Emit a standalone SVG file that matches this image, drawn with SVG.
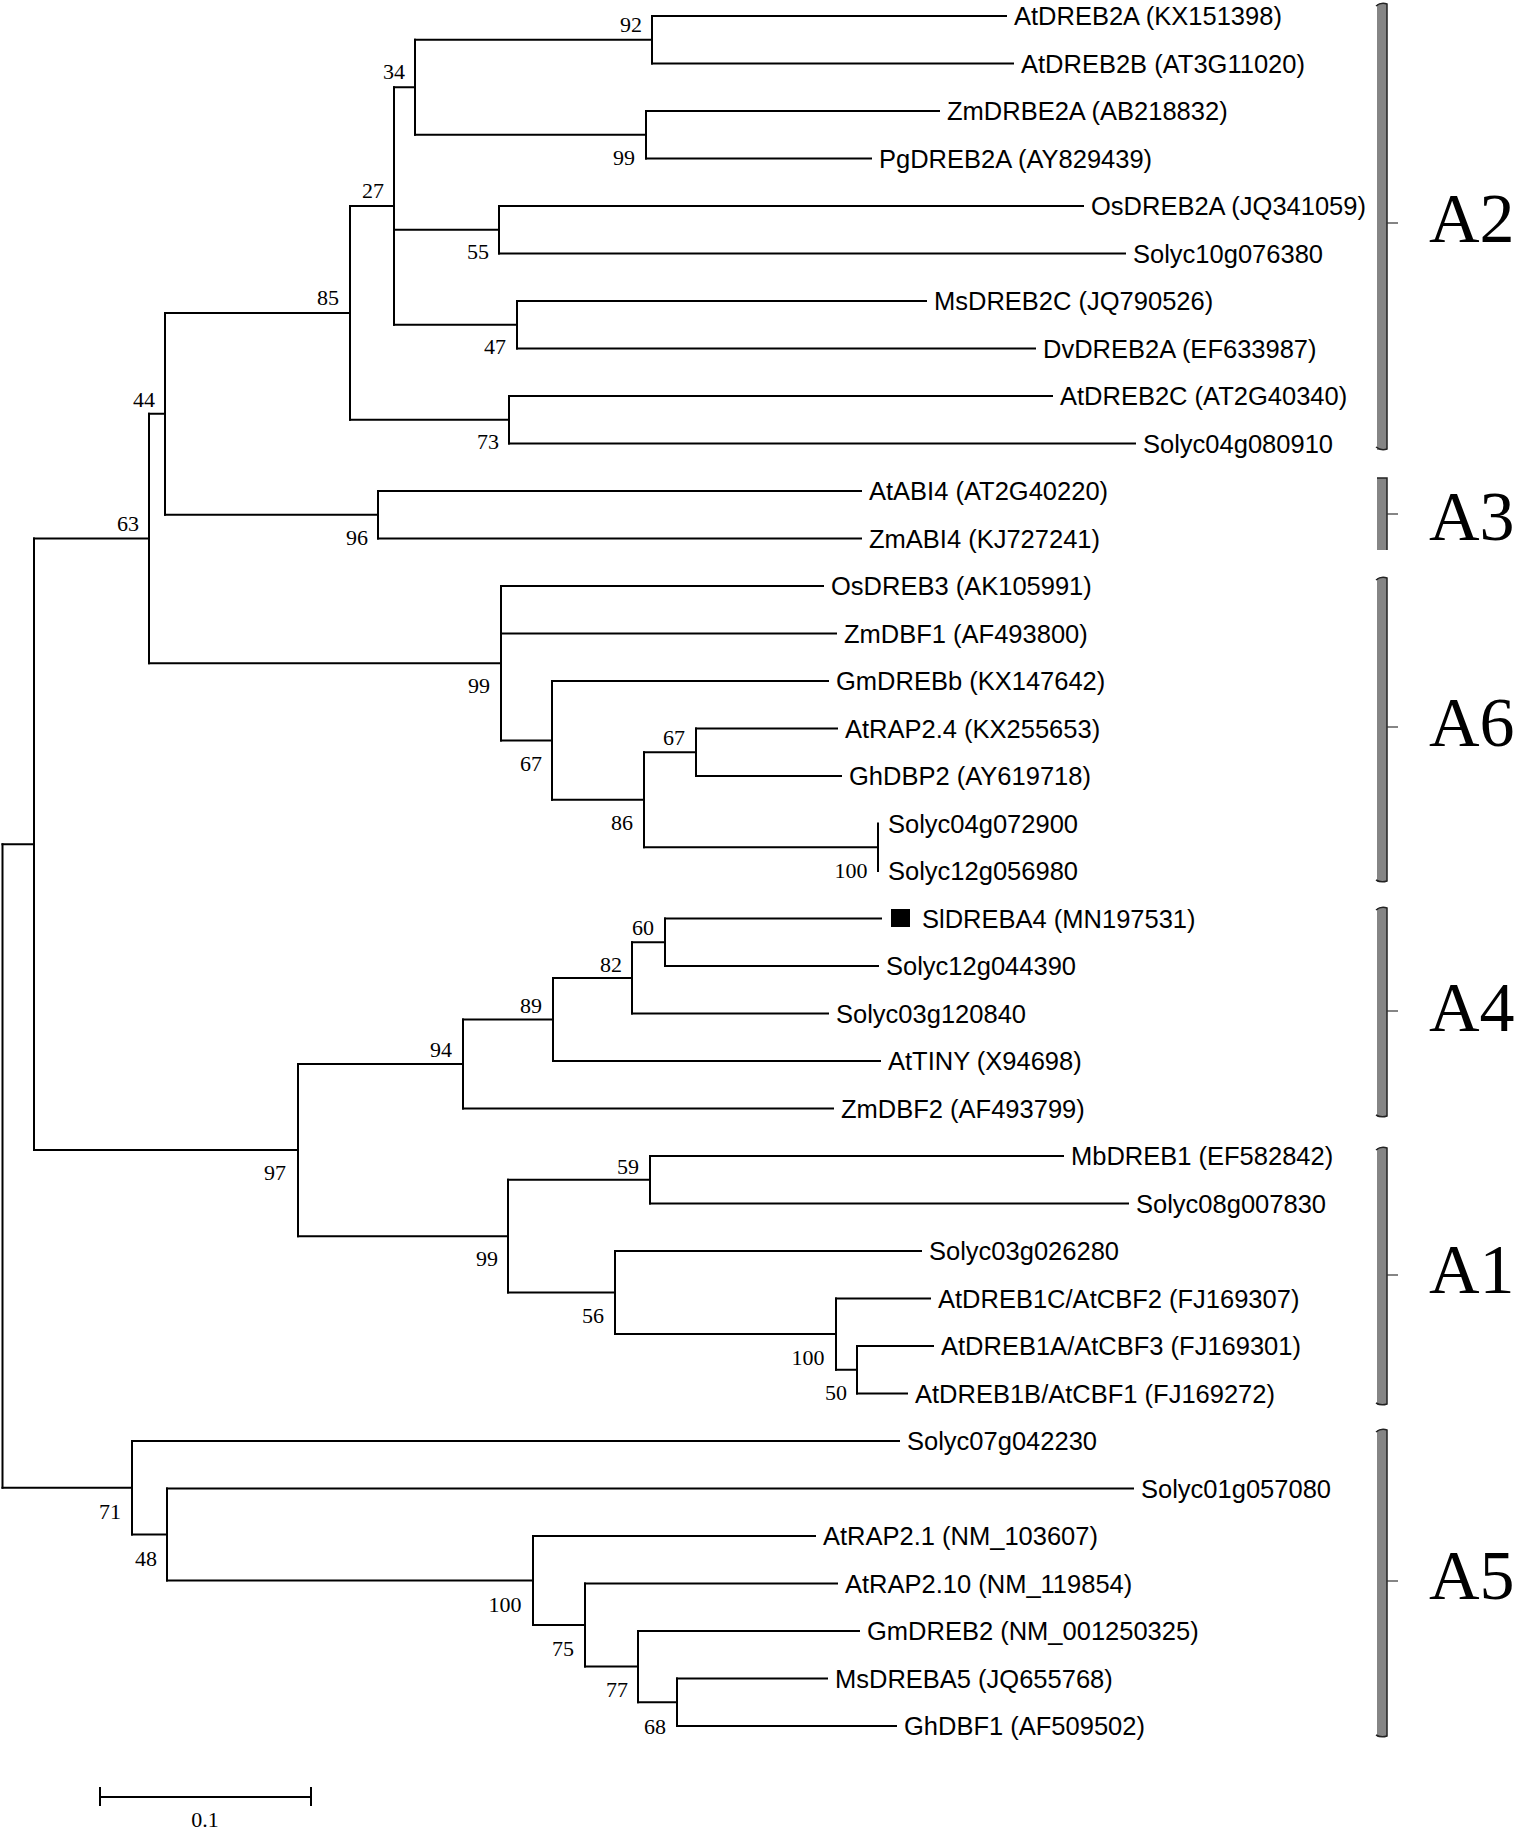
<svg xmlns="http://www.w3.org/2000/svg" width="1516" height="1830" viewBox="0 0 1516 1830">
<style>
.br{fill:none;stroke:#000;stroke-width:2;stroke-linecap:square}
.lf{font-family:"Liberation Sans",Arial,sans-serif;font-size:25.5px;fill:#000}
.bs{font-family:"Liberation Serif","Times New Roman",serif;font-size:22px;fill:#000;text-anchor:middle}
.cl{font-family:"Liberation Serif","Times New Roman",serif;font-size:70px;fill:#000}
.bar{fill:#858585;stroke:none}
.bk{fill:none;stroke:#222;stroke-width:1.5}
.tk{fill:none;stroke:#333;stroke-width:1.2}
</style>
<rect width="1516" height="1830" fill="#fff"/>
<g id="connectors" class="br">
<path d="M652,16H1006M652,63.5H1013M646,111H939M646,158.5H871M499,206H1083M499,253.5H1125M517,301H926M517,348.5H1035M509,396H1052M509,443.5H1135M378,491H861M378,538.5H861M501,586H823M501,633.5H836M552,681H828M696,728.5H837M696,776H841M665,918.5H881M665,966H878M632,1013.5H828M553,1061H880M463,1108.5H833M650,1156H1063M650,1203.5H1128M615,1251H921M836,1298.5H930M857,1346H933M857,1393.5H907M132,1441H899M167,1488.5H1133M533,1536H815M585,1583.5H837M638,1631H859M677,1678.5H827M677,1726H896"/>
<path d="M652,16V63.5M646,111V158.5M415,39.75V134.75M499,206V253.5M517,301V348.5M394,87.25V324.75M509,396V443.5M350,206V419.75M378,491V538.5M165,312.9V514.75M696,728.5V776M878,823.5V871M644,752.25V847.25M552,681V799.75M501,586V740.4M149,413.8V663.2M665,918.5V966M632,942.25V1013.5M553,977.9V1061M463,1019.4V1108.5M650,1156V1203.5M857,1346V1393.5M836,1298.5V1369.75M615,1251V1334.1M508,1179.75V1292.6M298,1064V1236.2M34,538.5V1150.1M677,1678.5V1726M638,1631V1702.25M585,1583.5V1666.6M533,1536V1625M167,1488.5V1580.5M132,1441V1534.5M2.5,844.3V1487.75"/>
<path d="M415,39.75H652M415,134.75H646M394,87.25H415M394,229.75H499M394,324.75H517M350,206H394M350,419.75H509M165,312.9H350M165,514.75H378M149,413.8H165M644,752.25H696M644,847.25H878M552,799.75H644M501,740.4H552M149,663.2H501M34,538.5H149M632,942.25H665M553,977.9H632M463,1019.4H553M298,1064H463M508,1179.75H650M836,1369.75H857M615,1334.1H836M508,1292.6H615M298,1236.2H508M34,1150.1H298M2.5,844.3H34M638,1702.25H677M585,1666.6H638M533,1625H585M167,1580.5H533M132,1534.5H167M2.5,1487.75H132"/>
</g>
<g id="leaves" class="lf">
<g id="leaf-AtDREB2A"><text x="1014" y="25">AtDREB2A (KX151398)</text></g>
<g id="leaf-AtDREB2B"><text x="1021" y="72.5">AtDREB2B (AT3G11020)</text></g>
<g id="leaf-ZmDRBE2A"><text x="947" y="120">ZmDRBE2A (AB218832)</text></g>
<g id="leaf-PgDREB2A"><text x="879" y="167.5">PgDREB2A (AY829439)</text></g>
<g id="leaf-OsDREB2A"><text x="1091" y="215">OsDREB2A (JQ341059)</text></g>
<g id="leaf-Solyc10g076380"><text x="1133" y="262.5">Solyc10g076380</text></g>
<g id="leaf-MsDREB2C"><text x="934" y="310">MsDREB2C (JQ790526)</text></g>
<g id="leaf-DvDREB2A"><text x="1043" y="357.5">DvDREB2A (EF633987)</text></g>
<g id="leaf-AtDREB2C"><text x="1060" y="405">AtDREB2C (AT2G40340)</text></g>
<g id="leaf-Solyc04g080910"><text x="1143" y="452.5">Solyc04g080910</text></g>
<g id="leaf-AtABI4"><text x="869" y="500">AtABI4 (AT2G40220)</text></g>
<g id="leaf-ZmABI4"><text x="869" y="547.5">ZmABI4 (KJ727241)</text></g>
<g id="leaf-OsDREB3"><text x="831" y="595">OsDREB3 (AK105991)</text></g>
<g id="leaf-ZmDBF1"><text x="844" y="642.5">ZmDBF1 (AF493800)</text></g>
<g id="leaf-GmDREBb"><text x="836" y="690">GmDREBb (KX147642)</text></g>
<g id="leaf-AtRAP2.4"><text x="845" y="737.5">AtRAP2.4 (KX255653)</text></g>
<g id="leaf-GhDBP2"><text x="849" y="785">GhDBP2 (AY619718)</text></g>
<g id="leaf-Solyc04g072900"><text x="888" y="832.5">Solyc04g072900</text></g>
<g id="leaf-Solyc12g056980"><text x="888" y="880">Solyc12g056980</text></g>
<g id="leaf-SlDREBA4"><rect x="891" y="909" width="19" height="18" fill="#000"/><text x="922" y="927.5">SlDREBA4 (MN197531)</text></g>
<g id="leaf-Solyc12g044390"><text x="886" y="975">Solyc12g044390</text></g>
<g id="leaf-Solyc03g120840"><text x="836" y="1022.5">Solyc03g120840</text></g>
<g id="leaf-AtTINY"><text x="888" y="1070">AtTINY (X94698)</text></g>
<g id="leaf-ZmDBF2"><text x="841" y="1117.5">ZmDBF2 (AF493799)</text></g>
<g id="leaf-MbDREB1"><text x="1071" y="1165">MbDREB1 (EF582842)</text></g>
<g id="leaf-Solyc08g007830"><text x="1136" y="1212.5">Solyc08g007830</text></g>
<g id="leaf-Solyc03g026280"><text x="929" y="1260">Solyc03g026280</text></g>
<g id="leaf-AtDREB1C"><text x="938" y="1307.5">AtDREB1C/AtCBF2 (FJ169307)</text></g>
<g id="leaf-AtDREB1A"><text x="941" y="1355">AtDREB1A/AtCBF3 (FJ169301)</text></g>
<g id="leaf-AtDREB1B"><text x="915" y="1402.5">AtDREB1B/AtCBF1 (FJ169272)</text></g>
<g id="leaf-Solyc07g042230"><text x="907" y="1450">Solyc07g042230</text></g>
<g id="leaf-Solyc01g057080"><text x="1141" y="1497.5">Solyc01g057080</text></g>
<g id="leaf-AtRAP2.1"><text x="823" y="1545">AtRAP2.1 (NM_103607)</text></g>
<g id="leaf-AtRAP2.10"><text x="845" y="1592.5">AtRAP2.10 (NM_119854)</text></g>
<g id="leaf-GmDREB2"><text x="867" y="1640">GmDREB2 (NM_001250325)</text></g>
<g id="leaf-MsDREBA5"><text x="835" y="1687.5">MsDREBA5 (JQ655768)</text></g>
<g id="leaf-GhDBF1"><text x="904" y="1735">GhDBF1 (AF509502)</text></g>
</g>
<g id="bootstrap" class="bs">
<text x="631" y="31.5">92</text>
<text x="624" y="164.5">99</text>
<text x="394" y="79">34</text>
<text x="373" y="198">27</text>
<text x="478" y="259">55</text>
<text x="495" y="354">47</text>
<text x="328" y="304.5">85</text>
<text x="488" y="448.5">73</text>
<text x="144" y="407">44</text>
<text x="357" y="544.5">96</text>
<text x="128" y="531">63</text>
<text x="479" y="693">99</text>
<text x="531" y="770.5">67</text>
<text x="674" y="744.5">67</text>
<text x="622" y="829.5">86</text>
<text x="851" y="877.5">100</text>
<text x="643" y="934.5">60</text>
<text x="611" y="971.5">82</text>
<text x="531" y="1012.5">89</text>
<text x="441" y="1057">94</text>
<text x="275" y="1179.5">97</text>
<text x="628" y="1173.5">59</text>
<text x="487" y="1266">99</text>
<text x="593" y="1323">56</text>
<text x="808" y="1365">100</text>
<text x="836" y="1400">50</text>
<text x="110" y="1519">71</text>
<text x="146" y="1566">48</text>
<text x="505" y="1612">100</text>
<text x="563" y="1656">75</text>
<text x="617" y="1697">77</text>
<text x="655" y="1734">68</text>
</g>
<g id="clade-A2"><rect class="bar" x="1377" y="4" width="10" height="446"/><path class="bk" d="M1376,6Q1381,2 1387,4V449Q1381,451 1376,447"/><path class="tk" d="M1387,223H1398"/><text class="cl" x="1429" y="242">A2</text></g>
<g id="clade-A3"><rect class="bar" x="1377" y="478" width="10" height="72"/><path class="bk" d="M1377,478H1387V550"/><path class="tk" d="M1387,514H1398"/><text class="cl" x="1429" y="540">A3</text></g>
<g id="clade-A6"><rect class="bar" x="1377" y="578" width="10" height="304"/><path class="bk" d="M1376,580Q1381,576 1387,578V881Q1381,883 1376,880"/><path class="tk" d="M1387,727H1398"/><text class="cl" x="1429" y="746">A6</text></g>
<g id="clade-A4"><rect class="bar" x="1377" y="908" width="10" height="209"/><path class="bk" d="M1376,910Q1381,906 1387,908V1116Q1381,1118 1376,1115"/><path class="tk" d="M1387,1011H1398"/><text class="cl" x="1429" y="1031">A4</text></g>
<g id="clade-A1"><rect class="bar" x="1377" y="1148" width="10" height="257"/><path class="bk" d="M1376,1150Q1381,1146 1387,1148V1404Q1381,1406 1376,1403"/><path class="tk" d="M1387,1275H1398"/><text class="cl" x="1429" y="1293">A1</text></g>
<g id="clade-A5"><rect class="bar" x="1377" y="1430" width="10" height="307"/><path class="bk" d="M1376,1432Q1381,1428 1387,1430V1736Q1381,1738 1376,1735"/><path class="tk" d="M1387,1581H1398"/><text class="cl" x="1429" y="1599">A5</text></g>
<g id="scale">
<path class="br" d="M100,1797H311M100,1788V1805M311,1788V1805"/>
<text class="bs" x="205" y="1827">0.1</text>
</g>
</svg>
